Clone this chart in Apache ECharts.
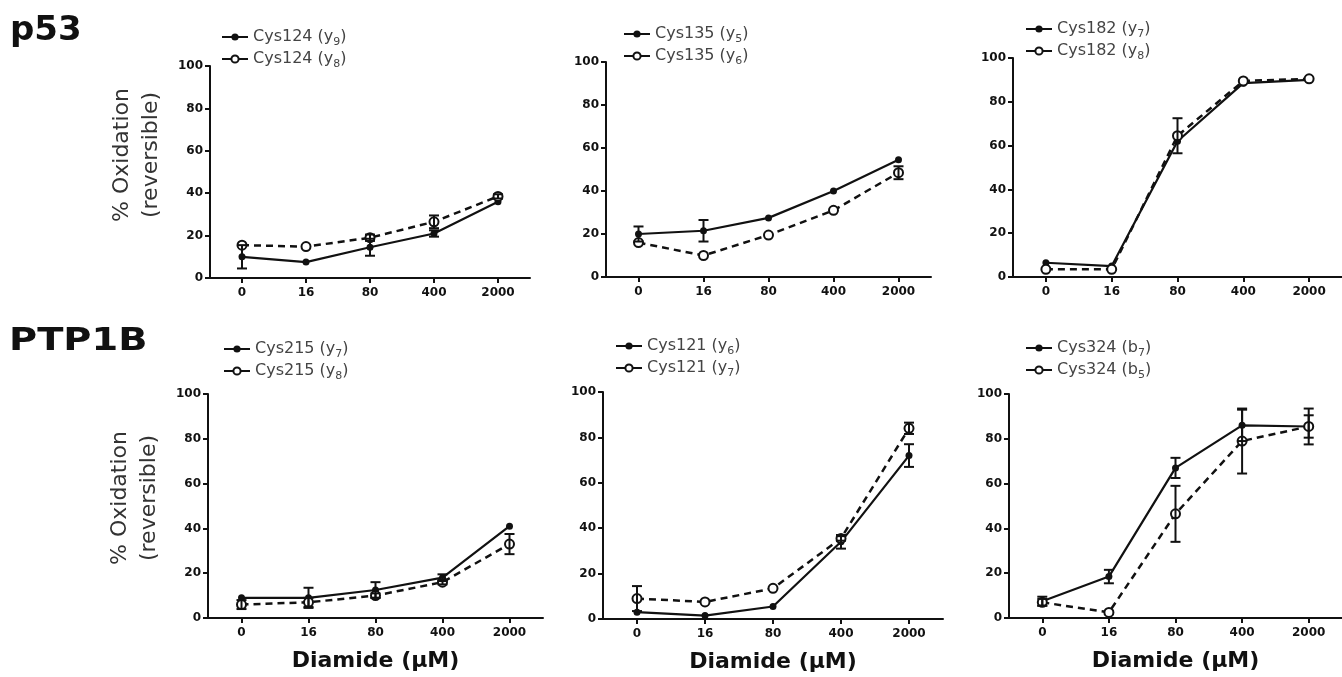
<!DOCTYPE html>
<html>
<head>
<meta charset="utf-8">
<script src="https://cdn.jsdelivr.net/npm/echarts@6/dist/echarts.min.js"></script>
<style>
  html, body { margin: 0; padding: 0; background: #fff; }
  #chart { width: 1342px; height: 677px; }
</style>
</head>
<body>
<div id="chart"></div>
<script>
// doses on the x axis (category labels)
const doses = ['0', '16', '80', '400', '2000'];
const yMin = 0;
const yMax = 100;
const yStep = 20;

// p53
const cys124Y9 = [10, 7.5, 14.5, 21, 36];
const cys124Y9Err = [5.5, 0, 4, 1.5, 0];
const cys124Y8 = [15.5, 14.8, 19, 26.5, 38.5];
const cys124Y8Err = [0, 0, 1.5, 3, 1];

const cys135Y5 = [20, 21.5, 27.5, 40, 54.5];
const cys135Y5Err = [3.5, 5, 0, 0, 0];
const cys135Y6 = [16, 10, 19.5, 31, 48.5];
const cys135Y6Err = [0, 0, 0, 0, 3];

const cys182Y7 = [6.5, 5, 62, 88.5, 90];
const cys182Y7Err = [0, 0, 0, 0, 0];
const cys182Y8 = [3.5, 3.5, 64.5, 89.5, 90.5];
const cys182Y8Err = [0, 0, 8, 0, 0];

// PTP1B
const cys215Y7 = [9, 9, 12.5, 18, 41];
const cys215Y7Err = [0, 4.5, 3.5, 1.5, 0];
const cys215Y8 = [6, 7, 10, 16, 33];
const cys215Y8Err = [2, 2, 1, 1, 4.5];

const cys121Y6 = [3, 1.5, 5.5, 34, 72];
const cys121Y6Err = [0, 0, 0, 3, 5];
const cys121Y7 = [9, 7.5, 13.5, 35.5, 84];
const cys121Y7Err = [5.5, 0, 0, 1, 2.5];

const cys324B7 = [7.5, 18.5, 67, 86, 85.5];
const cys324B7Err = [2, 3, 4.5, 7, 8];
const cys324B5 = [7, 2.5, 46.5, 79, 85.5];
const cys324B5Err = [1.5, 0, 12.5, 14.5, 5];

const INK = '#111';
const BOLD = 'DejaVu Sans';

const panels = [
  {
    grid: { left: 210, top: 66, width: 320, height: 212 },
    legend: { left: 216, top: 24 },
    yName: 34,
    xName: false,
    lines: [
      { name: 'Cys124 (y9)', values: cys124Y9, errors: cys124Y9Err, open: false },
      { name: 'Cys124 (y8)', values: cys124Y8, errors: cys124Y8Err, open: true },
    ],
  },
  {
    grid: { left: 606, top: 62, width: 325, height: 215 },
    legend: { left: 618, top: 21 },
    yName: null,
    xName: false,
    lines: [
      { name: 'Cys135 (y5)', values: cys135Y5, errors: cys135Y5Err, open: false },
      { name: 'Cys135 (y6)', values: cys135Y6, errors: cys135Y6Err, open: true },
    ],
  },
  {
    grid: { left: 1013, top: 58, width: 330, height: 219 },
    legend: { left: 1020, top: 16 },
    yName: null,
    xName: false,
    lines: [
      { name: 'Cys182 (y7)', values: cys182Y7, errors: cys182Y7Err, open: false },
      { name: 'Cys182 (y8)', values: cys182Y8, errors: cys182Y8Err, open: true },
    ],
  },
  {
    grid: { left: 208, top: 394, width: 335, height: 224 },
    legend: { left: 218, top: 336 },
    yName: 16,
    xName: true,
    lines: [
      { name: 'Cys215 (y7)', values: cys215Y7, errors: cys215Y7Err, open: false },
      { name: 'Cys215 (y8)', values: cys215Y8, errors: cys215Y8Err, open: true },
    ],
  },
  {
    grid: { left: 603, top: 392, width: 340, height: 227 },
    legend: { left: 610, top: 333 },
    yName: null,
    xName: true,
    lines: [
      { name: 'Cys121 (y6)', values: cys121Y6, errors: cys121Y6Err, open: false },
      { name: 'Cys121 (y7)', values: cys121Y7, errors: cys121Y7Err, open: true },
    ],
  },
  {
    grid: { left: 1009, top: 394, width: 335, height: 224 },
    legend: { left: 1020, top: 335 },
    yName: null,
    xName: true,
    lines: [
      { name: 'Cys324 (b7)', values: cys324B7, errors: cys324B7Err, open: false },
      { name: 'Cys324 (b5)', values: cys324B5, errors: cys324B5Err, open: true },
    ],
  },
];

// 'Cys124 (y9)' -> rich text with the ion number as a subscript
const legendLabel = (name) => {
  const m = name.match(/^(.*\([a-z])(\d+)\)$/);
  if (!m) return '{a|' + name + '}';
  return '{a|' + m[1] + '}{s|' + m[2] + '}{a|)}';
};

const renderErrorBar = (params, api) => {
  const x = api.value(0);
  const low = api.coord([x, api.value(1)]);
  const high = api.coord([x, api.value(2)]);
  const half = 5;
  const style = { stroke: INK, lineWidth: 2 };
  return {
    type: 'group',
    children: [
      { type: 'line', shape: { x1: low[0], y1: low[1], x2: high[0], y2: high[1] }, style },
      { type: 'line', shape: { x1: low[0] - half, y1: low[1], x2: low[0] + half, y2: low[1] }, style },
      { type: 'line', shape: { x1: high[0] - half, y1: high[1], x2: high[0] + half, y2: high[1] }, style },
    ],
  };
};

const axisLine = { show: true, lineStyle: { color: INK, width: 2 } };

const option = {
  animation: false,
  backgroundColor: '#fff',
  graphic: [
    {
      type: 'text', x: 10, y: 31,
      style: { x: 0, y: 0, text: 'p53', font: 'bold 34px "DejaVu Sans"', fill: INK, verticalAlign: 'middle' },
    },
    {
      type: 'text', x: 9, y: 342, scaleX: 1.2,
      style: { x: 0, y: 0, text: 'PTP1B', font: 'bold 32px "DejaVu Sans"', fill: INK, verticalAlign: 'middle' },
    },
  ],
  grid: panels.map((p) => ({ ...p.grid, containLabel: false })),
  legend: panels.map((p) => ({
    ...p.legend,
    orient: 'vertical',
    itemWidth: 26,
    itemHeight: 9,
    itemGap: 3,
    data: p.lines.map((l) => l.name),
    formatter: legendLabel,
    lineStyle: { type: 'solid', width: 2 },
    textStyle: {
      rich: {
        a: { fontFamily: 'DejaVu Sans', fontSize: 16, color: '#444', lineHeight: 22, verticalAlign: 'middle' },
        s: { fontFamily: 'DejaVu Sans', fontSize: 11, color: '#444', lineHeight: 22, verticalAlign: 'bottom' },
      },
    },
  })),
  xAxis: panels.map((p, i) => ({
    type: 'category',
    gridIndex: i,
    data: doses,
    boundaryGap: true,
    axisLine,
    axisTick: { show: true, alignWithLabel: true, length: 5, lineStyle: { color: INK, width: 2 } },
    axisLabel: { fontFamily: BOLD, fontWeight: 'bold', fontSize: 12, color: INK, margin: 9 },
    splitLine: { show: false },
    name: p.xName ? 'Diamide (µM)' : '',
    nameLocation: 'middle',
    nameGap: 32,
    nameTextStyle: { fontFamily: BOLD, fontWeight: 'bold', fontSize: 22, color: INK },
  })),
  yAxis: panels.map((p, i) => ({
    type: 'value',
    gridIndex: i,
    min: yMin,
    max: yMax,
    interval: yStep,
    axisLine,
    axisTick: { show: true, length: 5, lineStyle: { color: INK, width: 2 } },
    axisLabel: { fontFamily: BOLD, fontWeight: 'bold', fontSize: 12, color: INK, margin: 7 },
    splitLine: { show: false },
    name: p.yName !== null ? '% Oxidation\n(reversible)' : '',
    nameLocation: 'middle',
    nameRotate: 90,
    nameGap: 44,
    nameTextStyle: {
      fontFamily: 'DejaVu Sans', fontSize: 22, lineHeight: 29, color: '#333',
      padding: [0, 0, 0, p.yName || 0],
    },
  })),
  series: panels.flatMap((p, i) => p.lines.flatMap((l) => [
    {
      name: l.name,
      type: 'line',
      xAxisIndex: i,
      yAxisIndex: i,
      data: l.values,
      symbol: 'circle',
      symbolSize: l.open ? 9 : 7,
      showSymbol: true,
      lineStyle: { color: INK, width: l.open ? 2.5 : 2.2, type: l.open ? [7, 5] : 'solid' },
      itemStyle: { color: l.open ? '#fff' : INK, borderColor: INK, borderWidth: l.open ? 2 : 0 },
      z: l.open ? 4 : 3,
    },
    {
      name: l.name + ' error',
      type: 'custom',
      xAxisIndex: i,
      yAxisIndex: i,
      renderItem: renderErrorBar,
      encode: { x: 0, y: [1, 2] },
      data: l.values
        .map((v, k) => [k, v - l.errors[k], v + l.errors[k]])
        .filter((d, k) => l.errors[k] > 0),
      z: 5,
    },
  ])),
};

const chart = echarts.init(document.getElementById('chart'), null, { renderer: 'canvas' });
chart.setOption(option);
window.addEventListener('resize', () => chart.resize());
</script>
</body>
</html>
